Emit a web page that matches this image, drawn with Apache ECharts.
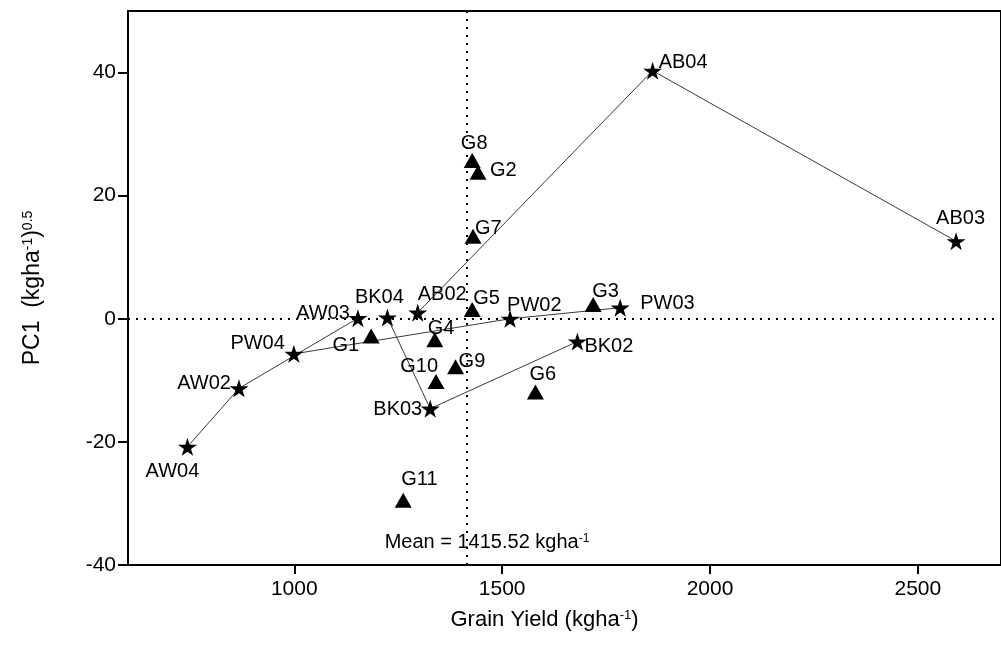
<!DOCTYPE html>
<html>
<head>
<meta charset="utf-8">
<script src="https://cdn.jsdelivr.net/npm/echarts@6/dist/echarts.min.js"></script>
<style>
html, body { margin: 0; padding: 0; background: #fff; }
#main { width: 1001px; height: 659px; }
</style>
</head>
<body>
<div id="main"></div>
<script>
// environments (stars)
const envNames = ['AW02', 'AW03', 'AW04', 'AB02', 'AB03', 'AB04', 'BK02', 'BK03', 'BK04', 'PW02', 'PW03', 'PW04'];
const envYield = [867, 1153, 743, 1297, 2592, 1862, 1681, 1327, 1224, 1519, 1784, 999];
const envPC1 = [-11.3, 0.1, -20.8, 1.0, 12.6, 40.3, -3.7, -14.6, 0.2, 0.0, 1.8, -5.7];

// genotypes (triangles)
const genoNames = ['G1', 'G2', 'G3', 'G4', 'G5', 'G6', 'G7', 'G8', 'G9', 'G10', 'G11'];
const genoYield = [1185, 1442, 1719, 1338, 1428, 1580, 1430, 1428, 1388, 1341, 1262];
const genoPC1 = [-2.8, 23.8, 2.3, -3.4, 1.5, -11.9, 13.4, 25.7, -7.8, -10.2, -29.5];

// years of one site joined by a line
const sitePaths = [
  ['AW04', 'AW02', 'AW03'],
  ['AB02', 'AB04', 'AB03'],
  ['BK04', 'BK03', 'BK02'],
  ['PW04', 'PW02', 'PW03']
];

const meanYield = 1415.52;
const xTicks = [1000, 1500, 2000, 2500];
const yTicks = [-40, -20, 0, 20, 40];

// where each label sits: [align, dx, dy] from the marker centre
const labelPlace = {
  AW04: ['center', -15, 25], AW02: ['right', -8, -5], PW04: ['right', -9, -10],
  AW03: ['right', -8, -5], BK04: ['center', -8, -20], AB02: ['left', 0, -18],
  BK03: ['right', -8, 1], PW02: ['left', -3, -13], PW03: ['left', 20, -4],
  BK02: ['left', 7, 5], AB04: ['left', 6, -8], AB03: ['left', -20, -23],
  G1: ['right', -12, 9], G2: ['left', 12, -2], G3: ['left', -1, -13],
  G4: ['left', -7, -11], G5: ['left', 1, -11], G6: ['left', -6, -18],
  G7: ['left', 2, -8], G8: ['center', 2, -17], G9: ['left', 3, -5],
  G10: ['right', 2, -15], G11: ['left', -2, -21]
};

const FONT = 'Liberation Sans, Arial, sans-serif';
const STAR = 'path://M50,0 L61,35 L98,35 L68,57 L79,91 L50,70 L21,91 L32,57 L2,35 L39,35 Z';

function pointItems(names, xs, ys) {
  return names.map(function (n, i) {
    const p = labelPlace[n];
    return {
      name: n,
      value: [xs[i], ys[i]],
      label: { align: p[0], offset: [p[1], p[2]] }
    };
  });
}

const lineSeries = sitePaths.map(function (path) {
  return {
    type: 'line',
    silent: true,
    symbol: 'none',
    z: 2,
    lineStyle: { color: '#3a3a3a', width: 1 },
    data: path.map(function (n) {
      const i = envNames.indexOf(n);
      return [envYield[i], envPC1[i]];
    })
  };
});

const pointLabel = {
  show: true,
  position: 'inside',
  verticalAlign: 'middle',
  formatter: '{b}',
  color: '#000',
  fontSize: 20,
  fontFamily: FONT
};

const chart = echarts.init(document.getElementById('main'));
chart.setOption({
  animation: false,
  backgroundColor: '#fff',
  grid: {
    left: 128, top: 11, width: 884, height: 554,
    show: true, borderColor: '#000', borderWidth: 2
  },
  xAxis: {
    type: 'value',
    min: 600, max: 2700,
    name: 'Grain Yield (kgha{sup|-1})',
    nameLocation: 'middle',
    nameGap: 44,
    nameTextStyle: {
      color: '#000', fontSize: 22, fontFamily: FONT, padding: [0, 40, 0, 0],
      rich: { sup: { fontSize: 13, verticalAlign: 'top', fontFamily: FONT, color: '#000' } }
    },
    axisLine: { show: true, onZero: false, lineStyle: { color: '#000', width: 2 } },
    axisTick: { show: true, customValues: xTicks, length: 9, lineStyle: { color: '#000', width: 2 } },
    axisLabel: {
      customValues: xTicks, color: '#000', fontSize: 21, fontFamily: FONT, margin: 14,
      formatter: function (v) { return String(v); }
    },
    splitLine: { show: false }
  },
  yAxis: {
    type: 'value',
    min: -40, max: 50,
    name: 'PC1  (kgha{sup|-1}){sup|0.5}',
    nameLocation: 'middle',
    nameGap: 84,
    nameRotate: 90,
    nameTextStyle: {
      color: '#000', fontSize: 23, fontFamily: FONT,
      rich: { sup: { fontSize: 14, verticalAlign: 'top', fontFamily: FONT, color: '#000' } }
    },
    axisLine: { show: true, onZero: false, lineStyle: { color: '#000', width: 2 } },
    axisTick: { show: true, customValues: yTicks, length: 10, lineStyle: { color: '#000', width: 2 } },
    axisLabel: {
      customValues: yTicks, color: '#000', fontSize: 21, fontFamily: FONT, margin: 12,
      formatter: function (v) { return String(v); }
    },
    splitLine: { show: false }
  },
  series: lineSeries.concat([
    {
      type: 'scatter',
      name: 'env',
      symbol: STAR,
      symbolKeepAspect: true,
      symbolSize: 19,
      z: 4,
      itemStyle: { color: '#000', opacity: 1 },
      label: pointLabel,
      data: pointItems(envNames, envYield, envPC1),
      markLine: {
        silent: true,
        symbol: 'none',
        label: { show: false },
        lineStyle: { color: '#000', type: [2, 6], width: 2, opacity: 1 },
        data: [{ yAxis: 0 }, { xAxis: meanYield }]
      }
    },
    {
      type: 'scatter',
      name: 'geno',
      symbol: 'triangle',
      symbolSize: [17, 15],
      z: 4,
      itemStyle: { color: '#000', opacity: 1 },
      label: pointLabel,
      data: pointItems(genoNames, genoYield, genoPC1)
    }
  ])
});

// mean annotation under the vertical dotted line
const meanPos = chart.convertToPixel({ gridIndex: 0 }, [meanYield, -36.3]);
chart.setOption({
  graphic: [{
    type: 'text',
    x: meanPos[0] + 20,
    y: meanPos[1],
    style: {
      text: 'Mean = ' + meanYield.toFixed(2) + ' kgha{sup|-1}',
      align: 'center',
      verticalAlign: 'middle',
      fill: '#000',
      fontSize: 20,
      fontFamily: FONT,
      rich: { sup: { fontSize: 12, verticalAlign: 'top', fontFamily: FONT, fill: '#000' } }
    }
  }]
});
</script>
</body>
</html>
